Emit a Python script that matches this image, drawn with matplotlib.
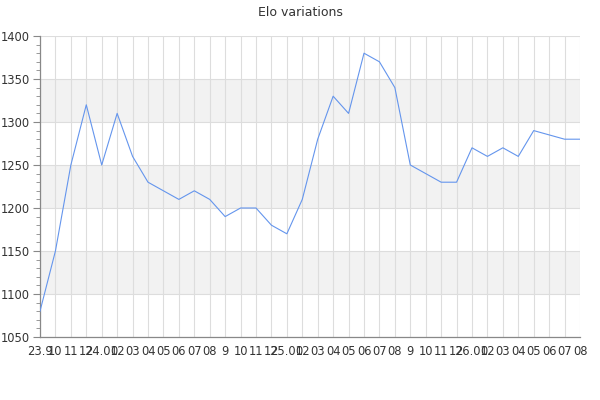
import matplotlib.pyplot as plt
from matplotlib.ticker import MultipleLocator

# Elo rating per month
labels = ["23.9", "10", "11", "12",
          "24.01", "02", "03", "04", "05", "06", "07", "08", "9", "10", "11", "12",
          "25.01", "02", "03", "04", "05", "06", "07", "08", "9", "10", "11", "12",
          "26.01", "02", "03", "04", "05", "06", "07", "08"]
elo = [1080, 1150, 1250, 1320, 1250, 1310, 1260, 1230, 1220, 1210, 1220, 1210,
       1190, 1200, 1200, 1180, 1170, 1210, 1280, 1330, 1310, 1380, 1370, 1340,
       1250, 1240, 1230, 1230, 1270, 1260, 1270, 1260, 1290, 1285, 1280, 1280]
bands = [(1100, 1150), (1200, 1250), (1300, 1350)]

fig = plt.figure(figsize=(6, 4), dpi=100)
ax = fig.add_axes([40 / 600, 63 / 400, 540 / 600, 301 / 400])

x = list(range(len(elo)))
for lo, hi in bands:
    ax.axhspan(lo, hi, color="#f2f2f2", zorder=0, lw=0)
ax.plot(x, elo, color="#6495ed", lw=0.8, zorder=3)

ax.set_xlim(0, len(elo) - 1)
ax.set_ylim(1050, 1400)
ax.set_xticks(x)
ax.set_xticklabels(labels)
ax.yaxis.set_major_locator(MultipleLocator(50))
ax.yaxis.set_minor_locator(MultipleLocator(10))

ax.grid(True, which="major", color="#dddddd", lw=0.8, zorder=1)
ax.set_axisbelow(True)
for s in ["top", "right"]:
    ax.spines[s].set_visible(False)
for s in ["left", "bottom"]:
    ax.spines[s].set_color("#888888")
    ax.spines[s].set_linewidth(0.9)

ax.tick_params(axis="x", length=0, pad=6, labelsize=8.3, labelcolor="#333333")
ax.tick_params(axis="y", which="major", length=5, color="#888888",
               labelsize=8.3, labelcolor="#333333", pad=2)
ax.tick_params(axis="y", which="minor", length=3, color="#888888")

fig.text(0.5, 0.97, "Elo variations", ha="center", va="center",
         fontsize=9, color="#333333")

fig.savefig("out.png", dpi=100)
